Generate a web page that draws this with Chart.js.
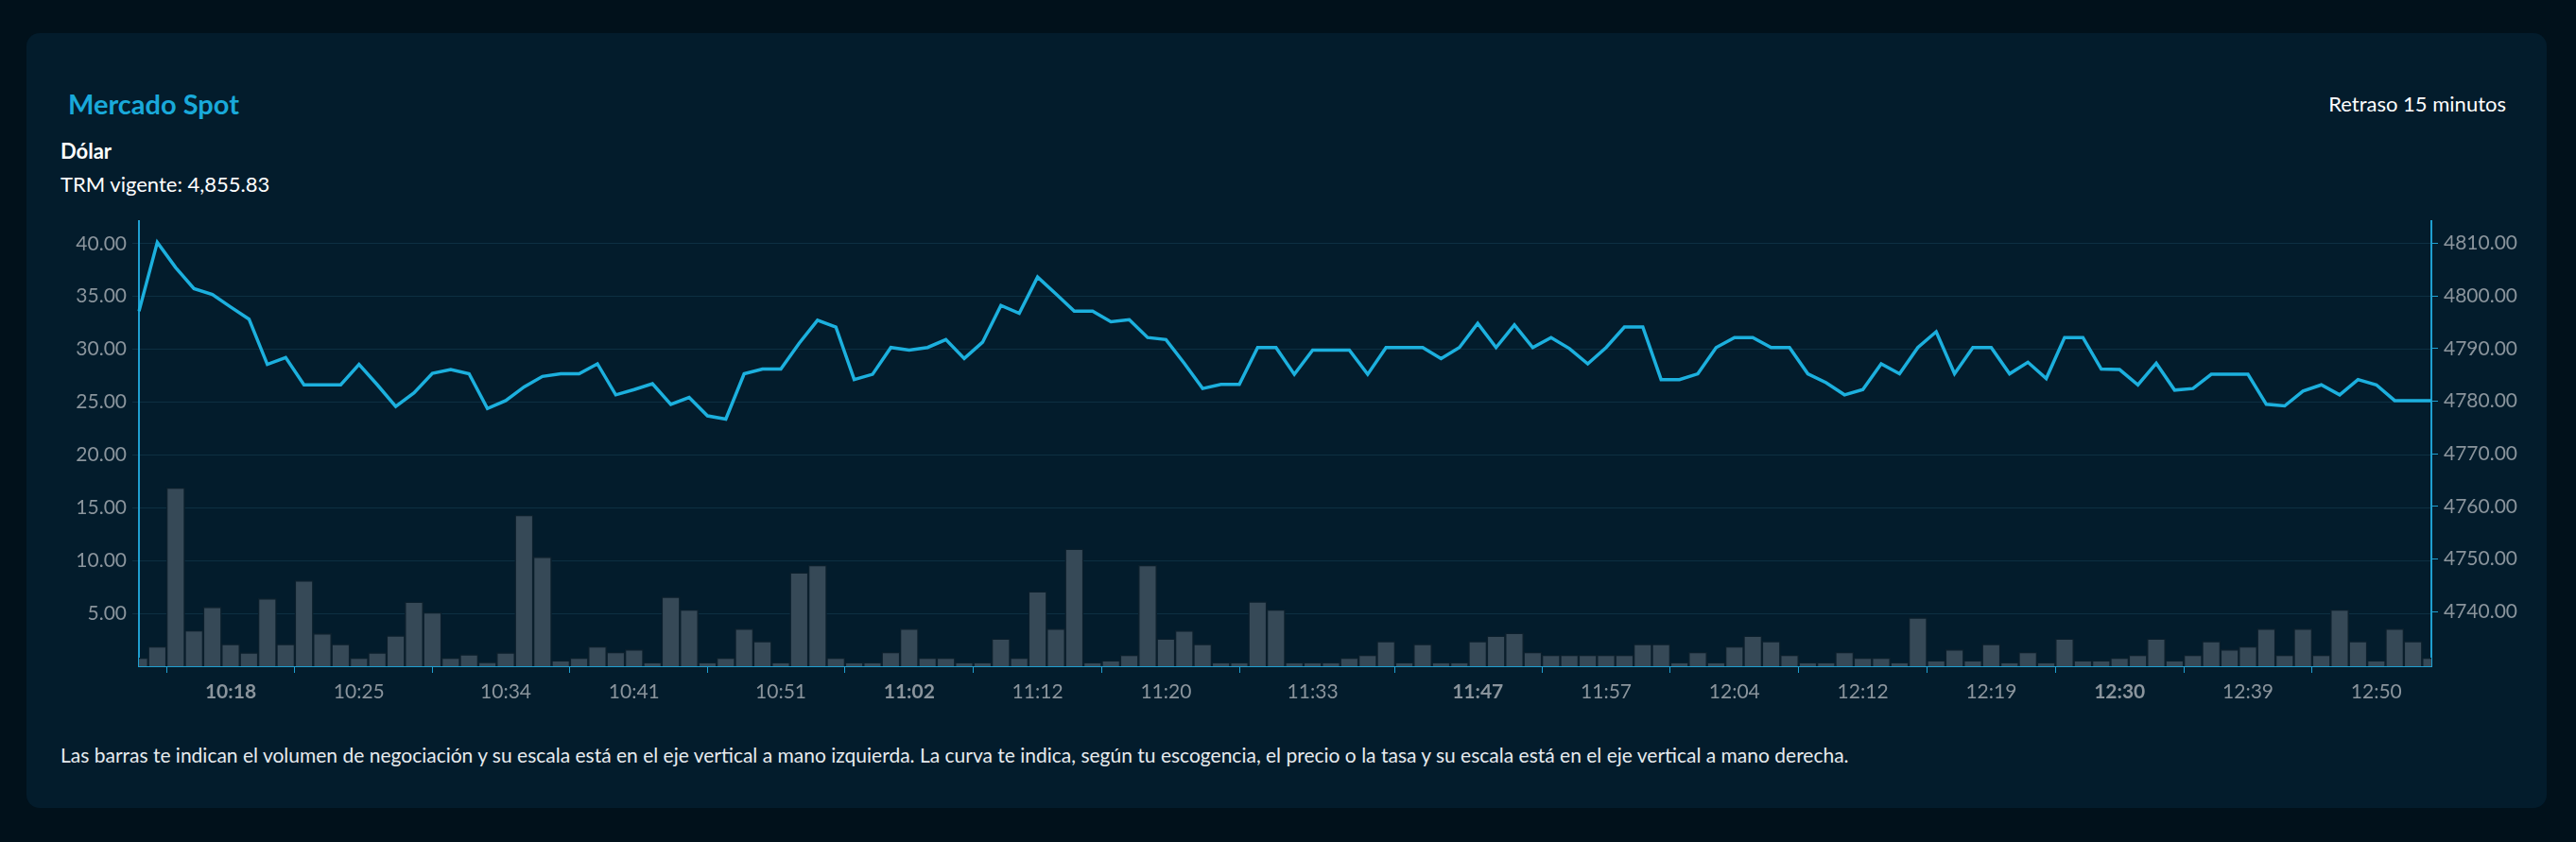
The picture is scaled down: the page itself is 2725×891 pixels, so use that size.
<!DOCTYPE html>
<html><head><meta charset="utf-8">
<script src="https://cdn.jsdelivr.net/npm/chart.js@4/dist/chart.umd.min.js"></script>
<style>
html,body{margin:0;padding:0;background:#01111b;width:2725px;height:891px;overflow:hidden;font-family:Lato,"Open Sans",sans-serif;}
#card{position:absolute;left:28px;top:35px;width:2666px;height:820px;background:#031c2c;border-radius:14px;}
.t{position:absolute;white-space:nowrap;color:#fff;}
#wrap{position:absolute;left:40px;top:215px;width:2640px;height:555px;}
</style></head><body>
<div id="card"></div>
<div class="t" style="left:72px;top:92px;font-size:29px;font-weight:700;color:#19a9da;">Mercado Spot</div>
<div class="t" style="right:74px;top:96px;font-size:22px;">Retraso 15 minutos</div>
<div class="t" style="left:64px;top:146px;font-size:22px;font-weight:700;">Dólar</div>
<div class="t" style="left:64px;top:181px;font-size:22px;">TRM vigente: 4,855.83</div>
<div id="wrap"><canvas id="c"></canvas></div>
<div class="t" style="left:64px;top:786px;font-size:21px;color:#e6eaee;">Las barras te indican el volumen de negociación y su escala está en el eje vertical a mano izquierda. La curva te indica, según tu escogencia, el precio o la tasa y su escala está en el eje vertical a mano derecha.</div>
<script>
const times = [
"10:13","10:14","10:15","10:16","10:17","10:18","10:19","10:20","10:21","10:22","10:23","10:24","10:25",
"10:26","10:27","10:28","10:29","10:30","10:32","10:33","10:34",
"10:35","10:36","10:37","10:38","10:39","10:40","10:41",
"10:42","10:43","10:44","10:46","10:47","10:48","10:50","10:51",
"10:52","10:54","10:56","10:57","10:59","11:00","11:02",
"11:03","11:05","11:06","11:08","11:09","11:11","11:12",
"11:13","11:14","11:15","11:16","11:17","11:19","11:20",
"11:21","11:23","11:25","11:26","11:28","11:30","11:31","11:33",
"11:34","11:36","11:37","11:39","11:40","11:42","11:43","11:45","11:47",
"11:48","11:50","11:51","11:52","11:54","11:55","11:57",
"11:58","11:59","12:00","12:01","12:02","12:03","12:04",
"12:05","12:06","12:07","12:08","12:10","12:11","12:12",
"12:13","12:14","12:15","12:16","12:17","12:18","12:19",
"12:20","12:22","12:24","12:25","12:27","12:28","12:30",
"12:31","12:32","12:34","12:35","12:36","12:38","12:39",
"12:41","12:42","12:44","12:46","12:47","12:49","12:50",
"12:51","12:52","12:53"];
const volume = [
0.8,1.86,16.9,3.4,5.6,2.1,1.3,6.4,2.1,8.1,3.1,2.1,0.8,1.3,2.9,6.1,5.1,0.8,1.1,0.4,1.3,
14.3,10.35,0.56,0.8,1.86,1.33,1.57,0.38,6.57,5.36,0.38,0.8,3.55,2.37,0.38,8.88,9.56,0.8,0.38,0.38,1.33,3.55,
0.8,0.8,0.38,0.38,2.6,0.8,7.07,3.55,11.1,0.38,0.56,1.07,9.56,2.6,3.37,2.1,0.38,0.38,6.12,5.36,
0.38,0.38,0.38,0.8,1.07,2.37,0.38,2.1,0.38,0.38,2.37,2.87,3.14,1.33,1.07,1.07,1.07,1.07,1.07,2.1,2.1,
0.38,1.33,0.38,1.86,2.87,2.37,1.07,0.38,0.38,1.33,0.8,0.8,0.38,4.59,0.56,1.57,0.56,2.1,0.38,1.33,
0.38,2.6,0.56,0.56,0.8,1.07,2.6,0.56,1.07,2.37,1.57,1.86,3.55,1.07,3.55,1.07,5.36,2.37,0.56,3.55,2.37,0.8];
const price = [
4797.1,4810.2,4805.4,4801.4,4800.3,4797.9,4795.6,4787.0,4788.3,4783.1,4783.1,4783.1,4787.0,4783.1,4779.0,4781.6,4785.3,4786.0,4785.2,4778.6,4780.1,
4782.7,4784.7,4785.2,4785.2,4787.1,4781.2,4782.2,4783.3,4779.4,4780.7,4777.2,4776.6,4785.2,4786.1,4786.1,4791.0,4795.4,4794.1,4784.1,4785.1,4790.2,4789.7,
4790.2,4791.7,4788.1,4791.2,4798.2,4796.7,4803.6,4800.4,4797.1,4797.1,4795.1,4795.5,4792.1,4791.7,4787.2,4782.4,4783.2,4783.2,4790.2,4790.2,
4785.1,4789.7,4789.7,4789.7,4785.1,4790.2,4790.2,4790.2,4788.1,4790.2,4794.8,4790.2,4794.5,4790.2,4792.1,4790.0,4787.1,4790.2,4794.1,4794.1,4784.1,
4784.1,4785.2,4790.2,4792.1,4792.1,4790.2,4790.2,4785.2,4783.5,4781.2,4782.2,4787.1,4785.2,4790.2,4793.2,4785.2,4790.2,4790.2,4785.2,4787.4,
4784.3,4792.1,4792.1,4786.1,4786.0,4783.1,4787.2,4782.1,4782.4,4785.1,4785.1,4785.1,4779.4,4779.1,4781.9,4783.1,4781.2,4784.1,4783.1,4780.1,4780.1,4780.1];
const tickTimes = ["10:18","10:25","10:34","10:41","10:51","11:02","11:12","11:20","11:33","11:47","11:57","12:04","12:12","12:19","12:30","12:39","12:50"];
const boldTimes = ["10:18","11:02","11:47","12:30"];
const leftTicks = [5,10,15,20,25,30,35,40];
const rightTicks = [4740,4750,4760,4770,4780,4790,4800,4810];

const AX='#1f9fd0', GRID='#0d2f42', TXT='#8a949c';
new Chart(document.getElementById('c'),{
  data:{labels:times,datasets:[
    {type:'line',label:'Precio',data:price,yAxisID:'yR',borderColor:'#1cb0de',borderWidth:3.5,pointRadius:0,tension:0,order:0},
    {type:'bar',label:'Volumen',data:volume,yAxisID:'yL',backgroundColor:'#364957',borderColor:'#0b1f2c',borderWidth:1.5,barPercentage:1,categoryPercentage:1,order:1}
  ]},
  options:{responsive:true,maintainAspectRatio:false,animation:false,
    layout:{padding:{top:13,left:0,right:0,bottom:0}},
    plugins:{legend:{display:false},tooltip:{enabled:false}},
    scales:{
      x:{offset:false,border:{color:AX,width:2},
        grid:{drawOnChartArea:false,color:AX,tickLength:7},
        afterBuildTicks:s=>{s.ticks=s.ticks.filter(t=>tickTimes.includes(times[t.value]));},
        afterFit:s=>{s.height=65;},
        ticks:{autoSkip:false,maxRotation:0,padding:8,color:TXT,
          callback:function(v){return times[v];},
          font:c=>({family:'Lato',size:21,weight:(c.tick&&boldTimes.includes(times[c.tick.value]))?'bold':'normal'})}},
      yL:{position:'left',min:0,max:42.16,border:{color:AX,width:2},
        grid:{color:GRID,tickLength:7},
        afterBuildTicks:s=>{s.ticks=leftTicks.map(v=>({value:v}));},
        afterFit:s=>{s.width=107;},
        ticks:{color:TXT,padding:6,font:{family:'Lato',size:21},callback:v=>Number(v).toFixed(2)}},
      yR:{position:'right',min:4729.6,max:4814.3,border:{color:AX,width:2},
        grid:{drawOnChartArea:false,color:AX,tickLength:7},
        afterBuildTicks:s=>{s.ticks=rightTicks.map(v=>({value:v}));},
        afterFit:s=>{s.width=108;},
        ticks:{color:TXT,padding:6,font:{family:'Lato',size:21},callback:v=>Number(v).toFixed(2)}}
    }}
});
</script>
</body></html>
